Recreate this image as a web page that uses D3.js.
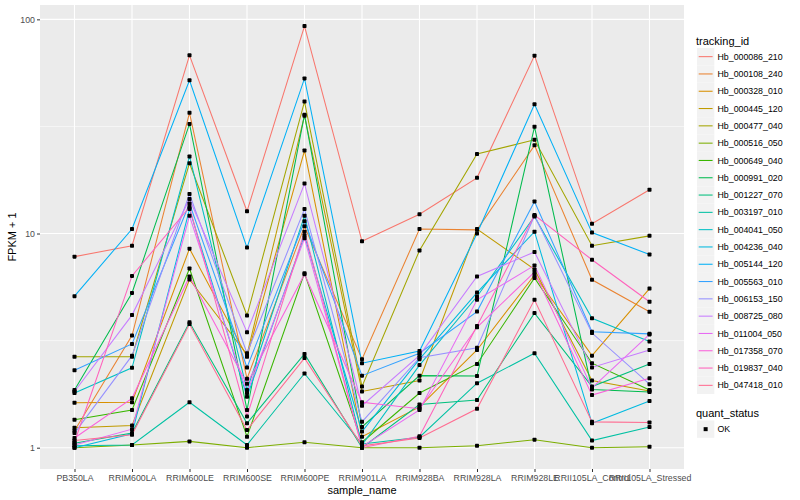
<!DOCTYPE html>
<html><head><meta charset="utf-8">
<script src="https://cdn.jsdelivr.net/npm/d3@7"></script>
<style>body{margin:0;background:#fff}text{font-family:"Liberation Sans",Arial,Helvetica,sans-serif}</style>
</head><body><svg id="c" width="800" height="500"></svg>
<script>
const samples = ["PB350LA","RRIM600LA","RRIM600LE","RRIM600SE","RRIM600PE","RRIM901LA","RRIM928BA","RRIM928LA","RRIM928LE","RRII105LA_Control","RRII105LA_Stressed"];
const trackingIds = ["Hb_000086_210","Hb_000108_240","Hb_000328_010","Hb_000445_120","Hb_000477_040","Hb_000516_050","Hb_000649_040","Hb_000991_020","Hb_001227_070","Hb_003197_010","Hb_004041_050","Hb_004236_040","Hb_005144_120","Hb_005563_010","Hb_006153_150","Hb_008725_080","Hb_011004_050","Hb_017358_070","Hb_019837_040","Hb_047418_010"];
const colors = ["#F8766D","#EA8331","#D89000","#C09B00","#A3A500","#7CAE00","#39B600","#00BB4E","#00BF7D","#00C1A3","#00BFC4","#00BAE0","#00B0F6","#35A2FF","#9590FF","#C77CFF","#E76BF3","#FA62DB","#FF62BC","#FF6C91"];
// FPKM + 1 per tracking_id, in sample order
const s000086_210 = [7.8, 8.77, 67.9, 12.7, 93, 9.2, 12.3, 18.2, 67.7, 11.1, 16.0];
const s000108_240 = [1.2, 3.34, 36.6, 2.1, 10.8, 2.59, 10.5, 10.4, 25.8, 6.08, 4.31];
const s000328_010 = [1.62, 1.63, 8.5, 2.66, 24.4, 1.125, 1.55, 2.86, 6.4, 2.69, 5.53];
const s000445_120 = [1.24, 1.27, 6.1, 2.72, 35.5, 1.83, 2.06, 10.5, 6.8, 2.06, 1.84];
const s000477_040 = [2.66, 2.66, 21.3, 4.14, 41.3, 1.93, 8.33, 23.5, 27.4, 8.77, 9.75];
const s000516_050 = [1.0, 1.03, 1.07, 1.0, 1.06, 1.0, 1.0, 1.02, 1.09, 1.0, 1.01];
const s000649_040 = [1.35, 1.5, 6.86, 1.125, 6.53, 1.06, 1.8, 2.46, 6.2, 2.48, 1.86];
const s000991_020 = [1.86, 5.28, 32.5, 1.5, 35.9, 1.25, 2.17, 2.16, 31.5, 1.87, 1.82];
const s001227_070 = [1.05, 1.17, 3.85, 1.3, 2.74, 1.0, 1.59, 1.67, 4.25, 1.93, 2.46];
const s003197_010 = [1.02, 1.03, 1.63, 1.03, 2.22, 1.04, 1.12, 2.0, 2.76, 1.08, 1.25];
const s004041_050 = [1.8, 2.36, 22.9, 1.86, 12.1, 1.03, 2.43, 5.08, 12.0, 4.02, 3.13];
const s004236_040 = [1.0, 1.16, 13.0, 1.73, 9.8, 1.19, 2.59, 5.3, 10.2, 1.30, 1.65];
const s005144_120 = [5.1, 10.5, 51.9, 8.6, 53, 2.48, 2.83, 10.0, 40.1, 10.1, 7.98];
const s005563_010 = [2.3, 3.05, 13.8, 2.37, 11.4, 2.17, 2.76, 4.32, 14.1, 3.48, 3.4];
const s006153_150 = [1.17, 2.69, 15.3, 2.76, 13.0, 1.32, 2.63, 2.93, 12.1, 3.43, 1.98];
const s008725_080 = [1.83, 4.16, 14.5, 3.46, 17.1, 1.57, 2.7, 6.3, 8.2, 2.37, 2.86];
const s011004_050 = [1.03, 1.22, 12.1, 1.8, 9.5, 1.01, 1.5, 4.9, 7.1, 1.9, 3.38];
const s017358_070 = [1.11, 1.7, 6.3, 1.99, 6.45, 1.63, 1.52, 3.65, 6.6, 1.76, 2.11];
const s019837_040 = [1.06, 6.34, 13.3, 1.4, 10.2, 1.0, 1.13, 3.7, 12.2, 7.54, 4.8];
const s047418_010 = [1.08, 1.15, 3.78, 1.21, 2.62, 1.02, 1.11, 1.52, 4.9, 1.32, 1.31];
const yTicks = [1, 10, 100];
const yMinor = [Math.sqrt(10), Math.sqrt(1000)];
const quantStatus = ["OK"];

const seriesVals = [s000086_210,s000108_240,s000328_010,s000445_120,s000477_040,s000516_050,s000649_040,s000991_020,s001227_070,s003197_010,s004041_050,s004236_040,s005144_120,s005563_010,s006153_150,s008725_080,s011004_050,s017358_070,s019837_040,s047418_010];
const series = trackingIds.map((id,i)=>({id, color: colors[i], vals: seriesVals[i].map((v,j)=>({s: samples[j], v}))}));

const svg = d3.select("#c");
const P = {l:40, r:684, t:5, b:469};
const x = d3.scalePoint().domain(samples).range([P.l, P.r]).padding(0.6);
const y = d3.scaleLog().domain([Math.pow(10,-0.0995), Math.pow(10,2.067)]).range([P.b, P.t]);

svg.append("rect").attr("x",P.l).attr("y",P.t).attr("width",P.r-P.l).attr("height",P.b-P.t).attr("fill","#EBEBEB");
// minor grid
svg.selectAll(".gm").data(yMinor).enter().append("line")
  .attr("x1",P.l).attr("x2",P.r).attr("y1",d=>y(d)).attr("y2",d=>y(d))
  .attr("stroke","#fff").attr("stroke-width",0.55);
// major grid
svg.selectAll(".gy").data(yTicks).enter().append("line")
  .attr("x1",P.l).attr("x2",P.r).attr("y1",d=>y(d)).attr("y2",d=>y(d))
  .attr("stroke","#fff").attr("stroke-width",1.1);
svg.selectAll(".gx").data(samples).enter().append("line")
  .attr("y1",P.t).attr("y2",P.b).attr("x1",d=>x(d)).attr("x2",d=>x(d))
  .attr("stroke","#fff").attr("stroke-width",1.1);

// axes
const yAxis = d3.axisLeft(y).tickValues(yTicks).tickFormat(d3.format("d")).tickSize(3).tickPadding(2);
const gy = svg.append("g").attr("transform",`translate(${P.l},0)`).call(yAxis);
gy.select(".domain").remove();
gy.selectAll(".tick line").attr("stroke","#333").attr("stroke-width",1);
gy.selectAll(".tick text").attr("fill","#4D4D4D").style("font-size","8.8px");

const xAxis = d3.axisBottom(x).tickSize(3).tickPadding(3);
const gx = svg.append("g").attr("transform",`translate(0,${P.b})`).call(xAxis);
gx.select(".domain").remove();
gx.selectAll(".tick line").attr("stroke","#333").attr("stroke-width",1);
gx.selectAll(".tick text").attr("fill","#4D4D4D").style("font-size","8.8px");

svg.append("text").attr("x",(P.l+P.r)/2).attr("y",494).attr("text-anchor","middle").style("font-size","11px").attr("fill","#000").text("sample_name");
svg.append("text").attr("transform",`translate(16,${(P.t+P.b)/2}) rotate(-90)`).attr("text-anchor","middle").style("font-size","11px").attr("fill","#000").text("FPKM + 1");

// lines
const line = d3.line().x(d=>x(d.s)).y(d=>y(d.v));
svg.append("g").selectAll("path").data(series).enter().append("path")
  .attr("d",d=>line(d.vals)).attr("fill","none").attr("stroke",d=>d.color).attr("stroke-width",1.05);
// points
const pts = series.flatMap(s=>s.vals);
svg.append("g").selectAll("rect").data(pts).enter().append("rect")
  .attr("x",d=>x(d.s)-2).attr("y",d=>y(d.v)-2).attr("width",4).attr("height",4).attr("rx",0.8).attr("fill","#000");

// legend
const L = svg.append("g");
L.append("text").attr("x",696).attr("y",44.5).style("font-size","11px").attr("fill","#000").text("tracking_id");
const keyH = 17.3, k0 = 48;
const items = L.selectAll(".it").data(series).enter().append("g").attr("transform",(d,i)=>`translate(697,${k0+i*keyH})`);
items.append("rect").attr("width",17.3).attr("height",17.3).attr("fill","#F2F2F2");
items.append("line").attr("x1",1.7).attr("x2",15.6).attr("y1",8.65).attr("y2",8.65).attr("stroke",d=>d.color).attr("stroke-width",1.05);
items.append("text").attr("x",20.5).attr("y",11.8).style("font-size","8.8px").attr("fill","#000").text(d=>d.id);

L.append("text").attr("x",696).attr("y",416.5).style("font-size","11px").attr("fill","#000").text("quant_status");
const q = L.selectAll(".q").data(quantStatus).enter().append("g").attr("transform",`translate(697,420.5)`);
q.append("rect").attr("width",17.3).attr("height",17.3).attr("fill","#F2F2F2");
q.append("rect").attr("x",6.65).attr("y",6.65).attr("width",4).attr("height",4).attr("fill","#000");
q.append("text").attr("x",20.5).attr("y",11.8).style("font-size","8.8px").attr("fill","#000").text(d=>d);
</script></body></html>
